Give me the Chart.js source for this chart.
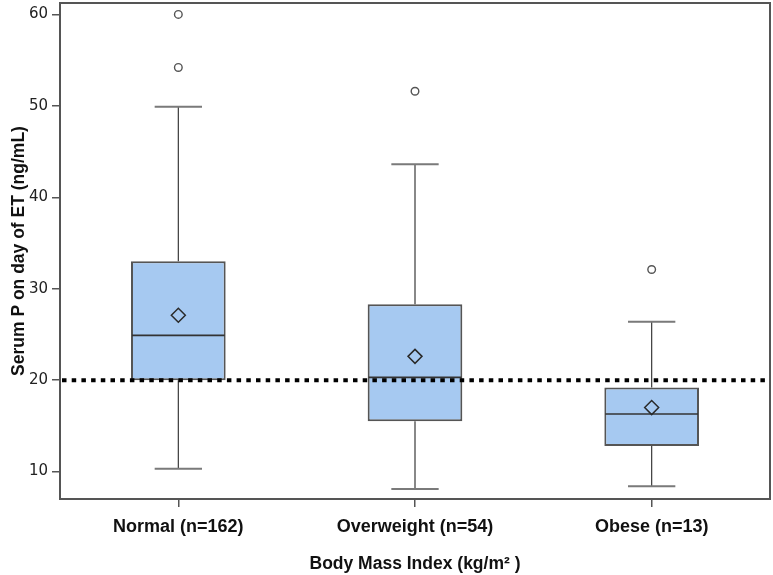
<!DOCTYPE html>
<html>
<head>
<meta charset="utf-8">
<script src="https://cdn.jsdelivr.net/npm/chart.js@4.4.1/dist/chart.umd.min.js"></script>
<style>
  html, body { margin: 0; padding: 0; background: #ffffff; }
  #wrap { width: 773px; height: 575px; }
</style>
</head>
<body>
<div id="wrap"><canvas id="c" width="773" height="575"></canvas></div>
<script>
// ---- data ----
const categories = ['Normal (n=162)', 'Overweight (n=54)', 'Obese (n=13)'];
const whiskerLow  = [10.3, 8.1, 8.4];
const q1          = [20.0, 15.5, 12.8];
const median      = [24.9, 20.3, 16.3];
const q3          = [33.0, 28.3, 19.2];
const whiskerHigh = [49.9, 43.6, 26.4];
const means       = [27.1, 22.6, 17.0];
const outliers    = [[60.0, 54.2], [51.6], [32.1]];
const refLine     = 20;
const yTicks      = [10, 20, 30, 40, 50, 60];
const yMin = 7.0, yMax = 61.25;

const yTitle = 'Serum P on day of ET (ng/mL)';
const xTitle = 'Body Mass Index (kg/m\u00B2 )';

// ---- derived datasets ----
const boxData = categories.map((c, i) => [q1[i], q3[i]]);
const outlierPoints = [];
outliers.forEach((arr, i) => arr.forEach(v => outlierPoints.push({ x: categories[i], y: v })));

const boxPlugin = {
  id: 'boxExtras',
  afterDatasetDraw(chart, args) {
    if (args.index !== 2) return;
    const ctx = chart.ctx;
    const xs = chart.scales.x, ys = chart.scales.y;
    const meta = chart.getDatasetMeta(2);
    ctx.save();
    categories.forEach((c, i) => {
      const bar = meta.data[i];
      const cx = xs.getPixelForValue(i);
      const half = bar.width / 2;
      const capHalf = half / 2;
      // whiskers
      ctx.strokeStyle = '#3a3a3a';
      ctx.lineWidth = 1.2;
      ctx.beginPath();
      ctx.moveTo(cx, ys.getPixelForValue(q3[i]));
      ctx.lineTo(cx, ys.getPixelForValue(whiskerHigh[i]));
      ctx.moveTo(cx, ys.getPixelForValue(q1[i]));
      ctx.lineTo(cx, ys.getPixelForValue(whiskerLow[i]));
      ctx.stroke();
      // caps
      ctx.strokeStyle = '#7a7a7a';
      ctx.lineWidth = 2;
      ctx.beginPath();
      [whiskerHigh[i], whiskerLow[i]].forEach(v => {
        const y = ys.getPixelForValue(v);
        ctx.moveTo(cx - capHalf, y);
        ctx.lineTo(cx + capHalf, y);
      });
      ctx.stroke();
      // median
      ctx.strokeStyle = '#333333';
      ctx.lineWidth = 1.6;
      ctx.beginPath();
      const my = ys.getPixelForValue(median[i]);
      ctx.moveTo(cx - half + 1, my);
      ctx.lineTo(cx + half - 1, my);
      ctx.stroke();
    });
    // reference line
    const ry = ys.getPixelForValue(refLine);
    const area = chart.chartArea;
    ctx.strokeStyle = '#000000';
    ctx.lineWidth = 4;
    ctx.setLineDash([4.5, 5.2]);
    ctx.beginPath();
    ctx.moveTo(area.left + 2, ry);
    ctx.lineTo(area.right, ry);
    ctx.stroke();
    ctx.restore();
  },
  afterDraw(chart) {
    const ctx = chart.ctx;
    const a = chart.chartArea;
    ctx.save();
    ctx.strokeStyle = '#555555';
    ctx.lineWidth = 2;
    ctx.strokeRect(a.left, a.top, a.right - a.left, a.bottom - a.top);
    ctx.restore();
  }
};

new Chart(document.getElementById('c'), {
  type: 'bar',
  data: {
    labels: categories,
    datasets: [
      {
        type: 'line',
        label: 'Outliers',
        data: outlierPoints,
        showLine: false,
        pointStyle: 'circle',
        pointRadius: 3.8,
        pointBorderWidth: 1.4,
        pointBorderColor: '#555555',
        pointBackgroundColor: 'rgba(255,255,255,0)',
        order: 1
      },
      {
        type: 'line',
        label: 'Mean',
        data: means,
        showLine: false,
        pointStyle: 'rectRot',
        pointRadius: 7,
        pointBorderWidth: 1.5,
        pointBorderColor: '#2a2a2a',
        pointBackgroundColor: 'rgba(255,255,255,0)',
        order: 1
      },
      {
        type: 'bar',
        label: 'IQR',
        data: boxData,
        backgroundColor: '#a6c9f1',
        borderColor: '#555555',
        borderWidth: 2,
        borderSkipped: false,
        barPercentage: 0.4,
        categoryPercentage: 1.0,
        order: 3
      }
    ]
  },
  options: {
    responsive: false,
    animation: false,
    layout: { autoPadding: false, padding: { top: 3, right: 3, left: 0, bottom: 0 } },
    plugins: {
      legend: { display: false },
      tooltip: { enabled: false }
    },
    scales: {
      x: {
        type: 'category',
        offset: true,
        grid: { display: true, drawOnChartArea: false, drawTicks: true, tickLength: 8, color: '#555555', lineWidth: 1.5, offset: false },
        border: { display: false },
        ticks: { color: '#111111', font: { family: 'Liberation Sans', size: 18, weight: 'bold' }, padding: 9, maxRotation: 0 },
        title: { display: true, text: xTitle, color: '#111111', font: { family: 'Liberation Sans', size: 17.5, weight: 'bold' }, padding: { top: 0, bottom: 0 } },
        afterFit(scale) {
          scale.height = 76;
          scale.paddingLeft = 0; scale.paddingRight = 0;
        }
      },
      y: {
        type: 'linear',
        min: yMin,
        max: yMax,
        afterBuildTicks(scale) { scale.ticks = yTicks.map(v => ({ value: v })); },
        grid: { display: true, drawOnChartArea: false, drawTicks: true, tickLength: 8, color: '#555555', lineWidth: 1.5 },
        border: { display: false },
        ticks: { color: '#222222', font: { family: 'DejaVu Sans', size: 15 }, padding: 4 },
        title: { display: true, text: yTitle, color: '#111111', font: { family: 'Liberation Sans', size: 17.5, weight: 'bold' }, padding: { top: 9, bottom: 0 } },
        afterFit(scale) {
          scale.width = 60;
          scale.paddingTop = 0; scale.paddingBottom = 0;
        }
      }
    }
  },
  plugins: [boxPlugin]
});
</script>
</body>
</html>
